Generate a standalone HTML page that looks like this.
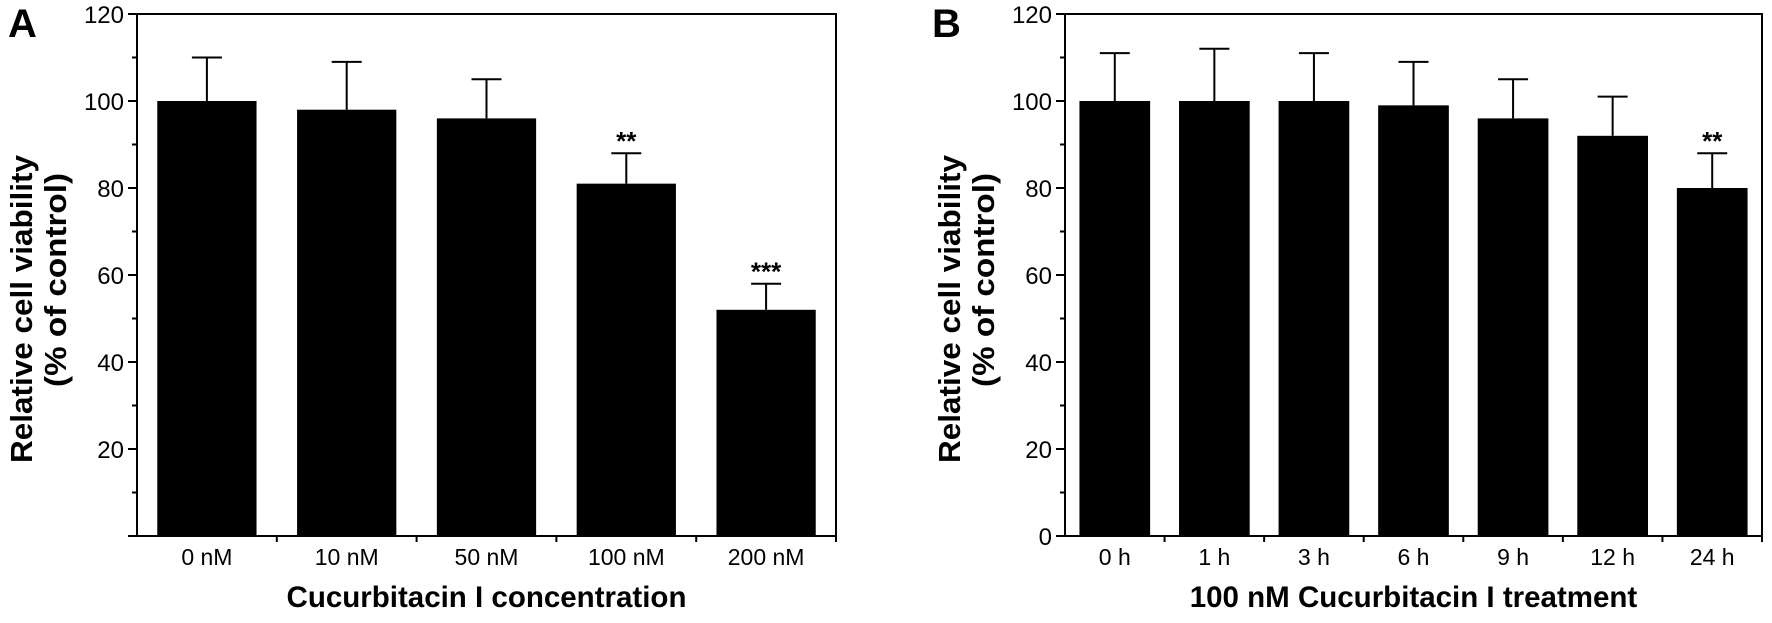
<!DOCTYPE html>
<html><head><meta charset="utf-8"><style>
html,body{margin:0;padding:0;background:#fff;}
svg{display:block;font-family:"Liberation Sans",Arial,sans-serif;}
</style></head><body>
<svg id="fig" width="1772" height="623" viewBox="0 0 1772 623" xmlns="http://www.w3.org/2000/svg"></svg>
<script>
const catsA = ["0 nM","10 nM","50 nM","100 nM","200 nM"];
const valsA = [100,98,96,81,52];
const errA = [10,11,9,7,6];
const sigA = ["","","","**","***"];
const ticksA = [20,40,60,80,100,120];

const catsB = ["0 h","1 h","3 h","6 h","9 h","12 h","24 h"];
const valsB = [100,100,100,99,96,92,80];
const errB = [11,12,11,10,9,9,8];
const sigB = ["","","","","","","**"];
const ticksB = [0,20,40,60,80,100,120];

const NS = "http://www.w3.org/2000/svg";
const svg = document.getElementById('fig');
function mk(tag, attrs, parent){
  const e = document.createElementNS(NS, tag);
  for (const k in attrs) e.setAttribute(k, attrs[k]);
  (parent||svg).appendChild(e);
  return e;
}
function panel(opt){
  const g = mk('g', {});
  
  
  const x0 = opt.x0, x1 = opt.x1, yTop = 14, yBot = 536;
  const y = v => yBot - (v/120)*(yBot-yTop);
  const n = opt.cats.length, step = (x1-x0)/n;
  const cx = i => x0 + step*(i+0.5);
  const bw = step*0.71;
  opt.vals.forEach((v,i)=>{
    const r = mk('rect',{x:cx(i)-bw/2,y:y(v),width:bw,height:yBot-y(v),fill:'#000'},g);
    
    
    const top = y(v+opt.errs[i]);
    const eb = mk('path',{d:`M${cx(i)},${y(v)}V${top}M${cx(i)-15},${top}H${cx(i)+15}`,stroke:'#000','stroke-width':2,fill:'none'},g);
    
    
    if (opt.sig[i]) {
      const t = mk('text',{x:cx(i),y:top-3,'text-anchor':'middle','font-size':26,'font-weight':'bold'},g);
      t.textContent = opt.sig[i];
      
      
    }
    const tl = mk('text',{x:cx(i),y:565,'text-anchor':'middle','font-size':23},g);
    tl.textContent = opt.cats[i];
    
    
  });
  const box = mk('rect',{x:x0,y:yTop,width:x1-x0,height:yBot-yTop,fill:'none',stroke:'#000','stroke-width':2},g);
  
  
  for (let i=1;i<=n;i++){ mk('line',{x1:x0+step*i,x2:x0+step*i,y1:yBot,y2:yBot+6,stroke:'#000','stroke-width':2},g); }
  for (let v=0; v<=120; v+=10){
    const major = v%20===0;
    mk('line',{x1:x0-(major?9:5),x2:x0,y1:y(v),y2:y(v),stroke:'#000','stroke-width':2},g);
  }
  opt.ticks.forEach(v=>{
    const t = mk('text',{x:x0-13,y:y(v)+9,'text-anchor':'end','font-size':24},g);
    t.textContent = v;
    
    
  });
  const yt = mk('g',{},g);
  
  
  const s1 = mk('text',{transform:`translate(${opt.ytx},309) rotate(-90)`,'text-anchor':'middle','font-size':31,'font-weight':'bold',textLength:308,lengthAdjust:'spacingAndGlyphs'},yt);
  s1.textContent='Relative cell viability';
  const s2 = mk('text',{transform:`translate(${opt.ytx+34},280) rotate(-90)`,'text-anchor':'middle','font-size':31,'font-weight':'bold',textLength:214,lengthAdjust:'spacingAndGlyphs'},yt);
  s2.textContent='(% of control)';
  const xt = mk('text',{x:(x0+x1)/2,y:607,'text-anchor':'middle','font-size':29.5,'font-weight':'bold'},g);
  xt.textContent = opt.xtitle;
  
  
  const pl = mk('text',{x:opt.lx,y:37,'font-size':40,'font-weight':'bold'},g);
  pl.textContent = opt.label;
  
  
}
panel({name:'panel-a',x0:137,x1:836,cats:catsA,vals:valsA,errs:errA,sig:sigA,ticks:ticksA,ytx:32,xtitle:'Cucurbitacin I concentration',label:'A',lx:8});
panel({name:'panel-b',x0:1065,x1:1762,cats:catsB,vals:valsB,errs:errB,sig:sigB,ticks:ticksB,ytx:960,xtitle:'100 nM Cucurbitacin I treatment',label:'B',lx:932});
</script>
</body></html>
